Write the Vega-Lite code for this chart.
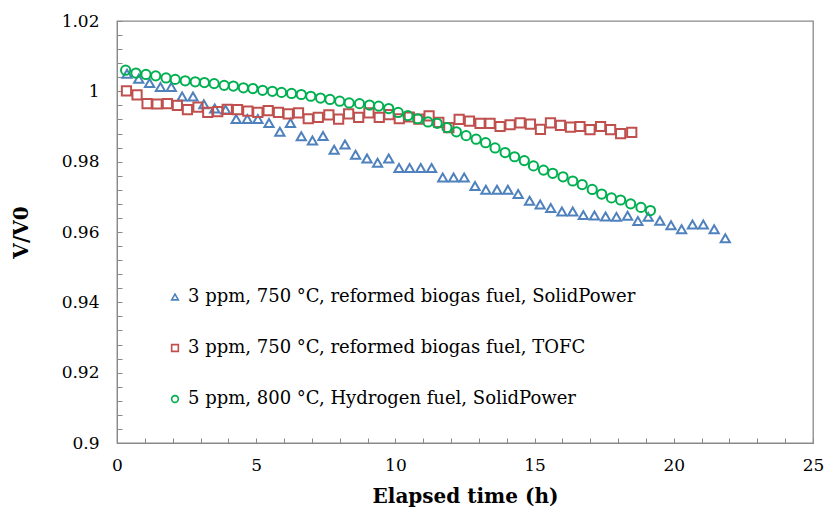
{
  "$schema": "https://vega.github.io/schema/vega-lite/v6.json",
  "autosize": {"type": "none"},
  "padding": {"left": 117, "top": 21, "right": 13, "bottom": 71},
  "width": 696,
  "height": 422,
  "background": "white",
  "config": {
    "view": {"stroke": "#898989", "strokeWidth": 1.3},
    "font": "DejaVu Serif",
    "axis": {
      "domainColor": "#898989",
      "tickColor": "#898989",
      "grid": false,
      "labelFont": "DejaVu Serif",
      "labelFontSize": 17,
      "labelColor": "#000000",
      "labelFlush": false,
      "titleFont": "DejaVu Serif",
      "titleFontWeight": "bold",
      "titleFontSize": 20,
      "titleColor": "#000000"
    }
  },
  "data": {
    "values": [
      {"series": "A", "t": 0.36, "v": 1.0050},
      {"series": "A", "t": 0.78, "v": 1.0036},
      {"series": "A", "t": 1.17, "v": 1.0024},
      {"series": "A", "t": 1.56, "v": 1.0012},
      {"series": "A", "t": 1.95, "v": 1.0012},
      {"series": "A", "t": 2.34, "v": 0.9985},
      {"series": "A", "t": 2.73, "v": 0.9985},
      {"series": "A", "t": 3.12, "v": 0.9963},
      {"series": "A", "t": 3.51, "v": 0.9951},
      {"series": "A", "t": 3.90, "v": 0.9948},
      {"series": "A", "t": 4.28, "v": 0.9921},
      {"series": "A", "t": 4.68, "v": 0.9921},
      {"series": "A", "t": 5.06, "v": 0.9921},
      {"series": "A", "t": 5.46, "v": 0.9910},
      {"series": "A", "t": 5.85, "v": 0.9885},
      {"series": "A", "t": 6.23, "v": 0.9910},
      {"series": "A", "t": 6.62, "v": 0.9872},
      {"series": "A", "t": 7.02, "v": 0.9860},
      {"series": "A", "t": 7.40, "v": 0.9873},
      {"series": "A", "t": 7.80, "v": 0.9834},
      {"series": "A", "t": 8.19, "v": 0.9849},
      {"series": "A", "t": 8.57, "v": 0.9820},
      {"series": "A", "t": 8.98, "v": 0.9809},
      {"series": "A", "t": 9.36, "v": 0.9797},
      {"series": "A", "t": 9.76, "v": 0.9809},
      {"series": "A", "t": 10.13, "v": 0.9782},
      {"series": "A", "t": 10.51, "v": 0.9782},
      {"series": "A", "t": 10.91, "v": 0.9782},
      {"series": "A", "t": 11.30, "v": 0.9782},
      {"series": "A", "t": 11.70, "v": 0.9755},
      {"series": "A", "t": 12.09, "v": 0.9755},
      {"series": "A", "t": 12.47, "v": 0.9755},
      {"series": "A", "t": 12.86, "v": 0.9731},
      {"series": "A", "t": 13.25, "v": 0.9720},
      {"series": "A", "t": 13.65, "v": 0.9720},
      {"series": "A", "t": 14.04, "v": 0.9720},
      {"series": "A", "t": 14.41, "v": 0.9708},
      {"series": "A", "t": 14.82, "v": 0.9689},
      {"series": "A", "t": 15.20, "v": 0.9678},
      {"series": "A", "t": 15.58, "v": 0.9668},
      {"series": "A", "t": 15.98, "v": 0.9658},
      {"series": "A", "t": 16.37, "v": 0.9658},
      {"series": "A", "t": 16.75, "v": 0.9648},
      {"series": "A", "t": 17.15, "v": 0.9647},
      {"series": "A", "t": 17.55, "v": 0.9644},
      {"series": "A", "t": 17.94, "v": 0.9643},
      {"series": "A", "t": 18.34, "v": 0.9646},
      {"series": "A", "t": 18.71, "v": 0.9631},
      {"series": "A", "t": 19.08, "v": 0.9643},
      {"series": "A", "t": 19.50, "v": 0.9632},
      {"series": "A", "t": 19.90, "v": 0.9619},
      {"series": "A", "t": 20.28, "v": 0.9608},
      {"series": "A", "t": 20.67, "v": 0.9621},
      {"series": "A", "t": 21.06, "v": 0.9621},
      {"series": "A", "t": 21.45, "v": 0.9608},
      {"series": "A", "t": 21.85, "v": 0.9582},
      {"series": "B", "t": 0.34, "v": 1.0001},
      {"series": "B", "t": 0.72, "v": 0.9990},
      {"series": "B", "t": 1.08, "v": 0.9965},
      {"series": "B", "t": 1.44, "v": 0.9964},
      {"series": "B", "t": 1.81, "v": 0.9965},
      {"series": "B", "t": 2.17, "v": 0.9960},
      {"series": "B", "t": 2.53, "v": 0.9948},
      {"series": "B", "t": 2.91, "v": 0.9955},
      {"series": "B", "t": 3.26, "v": 0.9940},
      {"series": "B", "t": 3.62, "v": 0.9942},
      {"series": "B", "t": 3.96, "v": 0.9949},
      {"series": "B", "t": 4.33, "v": 0.9948},
      {"series": "B", "t": 4.70, "v": 0.9944},
      {"series": "B", "t": 5.06, "v": 0.9940},
      {"series": "B", "t": 5.43, "v": 0.9945},
      {"series": "B", "t": 5.80, "v": 0.9940},
      {"series": "B", "t": 6.15, "v": 0.9936},
      {"series": "B", "t": 6.52, "v": 0.9939},
      {"series": "B", "t": 6.87, "v": 0.9922},
      {"series": "B", "t": 7.23, "v": 0.9926},
      {"series": "B", "t": 7.61, "v": 0.9933},
      {"series": "B", "t": 7.96, "v": 0.9921},
      {"series": "B", "t": 8.32, "v": 0.9936},
      {"series": "B", "t": 8.68, "v": 0.9926},
      {"series": "B", "t": 9.05, "v": 0.9939},
      {"series": "B", "t": 9.42, "v": 0.9926},
      {"series": "B", "t": 9.77, "v": 0.9934},
      {"series": "B", "t": 10.14, "v": 0.9922},
      {"series": "B", "t": 10.50, "v": 0.9927},
      {"series": "B", "t": 10.84, "v": 0.9921},
      {"series": "B", "t": 11.21, "v": 0.9930},
      {"series": "B", "t": 11.56, "v": 0.9912},
      {"series": "B", "t": 11.92, "v": 0.9897},
      {"series": "B", "t": 12.29, "v": 0.9920},
      {"series": "B", "t": 12.66, "v": 0.9915},
      {"series": "B", "t": 13.04, "v": 0.9909},
      {"series": "B", "t": 13.40, "v": 0.9909},
      {"series": "B", "t": 13.76, "v": 0.9900},
      {"series": "B", "t": 14.12, "v": 0.9905},
      {"series": "B", "t": 14.48, "v": 0.9910},
      {"series": "B", "t": 14.85, "v": 0.9907},
      {"series": "B", "t": 15.21, "v": 0.9892},
      {"series": "B", "t": 15.57, "v": 0.9910},
      {"series": "B", "t": 15.93, "v": 0.9903},
      {"series": "B", "t": 16.29, "v": 0.9898},
      {"series": "B", "t": 16.63, "v": 0.9900},
      {"series": "B", "t": 16.99, "v": 0.9891},
      {"series": "B", "t": 17.37, "v": 0.9900},
      {"series": "B", "t": 17.73, "v": 0.9891},
      {"series": "B", "t": 18.09, "v": 0.9880},
      {"series": "B", "t": 18.49, "v": 0.9883},
      {"series": "C", "t": 0.31, "v": 1.0060},
      {"series": "C", "t": 0.68, "v": 1.0052},
      {"series": "C", "t": 1.04, "v": 1.0048},
      {"series": "C", "t": 1.39, "v": 1.0044},
      {"series": "C", "t": 1.76, "v": 1.0038},
      {"series": "C", "t": 2.09, "v": 1.0034},
      {"series": "C", "t": 2.45, "v": 1.0030},
      {"series": "C", "t": 2.81, "v": 1.0027},
      {"series": "C", "t": 3.14, "v": 1.0025},
      {"series": "C", "t": 3.49, "v": 1.0022},
      {"series": "C", "t": 3.85, "v": 1.0017},
      {"series": "C", "t": 4.18, "v": 1.0015},
      {"series": "C", "t": 4.54, "v": 1.0010},
      {"series": "C", "t": 4.88, "v": 1.0008},
      {"series": "C", "t": 5.23, "v": 1.0003},
      {"series": "C", "t": 5.58, "v": 1.0000},
      {"series": "C", "t": 5.91, "v": 0.9997},
      {"series": "C", "t": 6.27, "v": 0.9994},
      {"series": "C", "t": 6.62, "v": 0.9991},
      {"series": "C", "t": 6.96, "v": 0.9986},
      {"series": "C", "t": 7.31, "v": 0.9981},
      {"series": "C", "t": 7.65, "v": 0.9977},
      {"series": "C", "t": 8.00, "v": 0.9972},
      {"series": "C", "t": 8.34, "v": 0.9967},
      {"series": "C", "t": 8.71, "v": 0.9965},
      {"series": "C", "t": 9.07, "v": 0.9961},
      {"series": "C", "t": 9.40, "v": 0.9958},
      {"series": "C", "t": 9.76, "v": 0.9951},
      {"series": "C", "t": 10.10, "v": 0.9940},
      {"series": "C", "t": 10.45, "v": 0.9931},
      {"series": "C", "t": 10.80, "v": 0.9922},
      {"series": "C", "t": 11.17, "v": 0.9913},
      {"series": "C", "t": 11.50, "v": 0.9909},
      {"series": "C", "t": 11.85, "v": 0.9897},
      {"series": "C", "t": 12.19, "v": 0.9885},
      {"series": "C", "t": 12.54, "v": 0.9874},
      {"series": "C", "t": 12.90, "v": 0.9864},
      {"series": "C", "t": 13.24, "v": 0.9854},
      {"series": "C", "t": 13.58, "v": 0.9839},
      {"series": "C", "t": 13.94, "v": 0.9826},
      {"series": "C", "t": 14.28, "v": 0.9814},
      {"series": "C", "t": 14.63, "v": 0.9803},
      {"series": "C", "t": 14.96, "v": 0.9788},
      {"series": "C", "t": 15.32, "v": 0.9776},
      {"series": "C", "t": 15.65, "v": 0.9767},
      {"series": "C", "t": 16.02, "v": 0.9757},
      {"series": "C", "t": 16.37, "v": 0.9745},
      {"series": "C", "t": 16.71, "v": 0.9735},
      {"series": "C", "t": 17.07, "v": 0.9721},
      {"series": "C", "t": 17.41, "v": 0.9708},
      {"series": "C", "t": 17.76, "v": 0.9697},
      {"series": "C", "t": 18.09, "v": 0.9691},
      {"series": "C", "t": 18.45, "v": 0.9680},
      {"series": "C", "t": 18.82, "v": 0.9670},
      {"series": "C", "t": 19.16, "v": 0.9661}
    ]
  },
  "transform": [
    {"lookup": "series", "from": {"data": {"values": [
      {"series": "A", "label": "3 ppm, 750 °C, reformed biogas fuel, SolidPower"},
      {"series": "B", "label": "3 ppm, 750 °C, reformed biogas fuel, TOFC"},
      {"series": "C", "label": "5 ppm, 800 °C, Hydrogen fuel, SolidPower"}
    ]}, "key": "series", "fields": ["label"]}}
  ],
  "mark": {"type": "point", "filled": false, "strokeWidth": 2, "size": 85, "opacity": 1},
  "encoding": {
    "x": {
      "field": "t", "type": "quantitative",
      "scale": {"domain": [0, 25], "nice": false},
      "axis": {
        "title": "Elapsed time (h)",
        "values": [0,1,2,3,4,5,6,7,8,9,10,11,12,13,14,15,16,17,18,19,20,21,22,23,24,25],
        "labelExpr": "datum.value % 5 == 0 ? datum.label : ''",
        "labelOverlap": false,
        "tickSize": -5,
        "labelPadding": 19,
        "titlePadding": 13
      }
    },
    "y": {
      "field": "v", "type": "quantitative",
      "scale": {"domain": [0.9, 1.02], "nice": false, "zero": false},
      "axis": {
        "title": "V/V0",
        "values": [0.9,0.904,0.908,0.912,0.916,0.92,0.924,0.928,0.932,0.936,0.94,0.944,0.948,0.952,0.956,0.96,0.964,0.968,0.972,0.976,0.98,0.984,0.988,0.992,0.996,1,1.004,1.008,1.012,1.016,1.02],
        "labelExpr": "abs(datum.value*50 - round(datum.value*50)) < 0.000001 ? format(datum.value, '~g') : ''",
        "labelOverlap": false,
        "tickSize": -5,
        "labelPadding": 23,
        "titlePadding": 30
      }
    },
    "color": {
      "field": "label", "type": "nominal",
      "scale": {
        "domain": ["3 ppm, 750 °C, reformed biogas fuel, SolidPower", "3 ppm, 750 °C, reformed biogas fuel, TOFC", "5 ppm, 800 °C, Hydrogen fuel, SolidPower"],
        "range": ["#4F81BD", "#C0504D", "#00B050"]
      },
      "legend": {
        "title": null,
        "orient": "none",
        "legendX": 49,
        "legendY": 267,
        "padding": 0,
        "rowPadding": 33,
        "labelFont": "DejaVu Serif",
        "labelFontSize": 18,
        "labelColor": "#000000",
        "labelLimit": 600,
        "labelOffset": 4,
        "symbolSize": 45,
        "symbolStrokeWidth": 1.6
      }
    },
    "shape": {
      "field": "label", "type": "nominal",
      "scale": {
        "domain": ["3 ppm, 750 °C, reformed biogas fuel, SolidPower", "3 ppm, 750 °C, reformed biogas fuel, TOFC", "5 ppm, 800 °C, Hydrogen fuel, SolidPower"],
        "range": ["triangle-up", "square", "circle"]
      },
      "legend": null
    }
  }
}
